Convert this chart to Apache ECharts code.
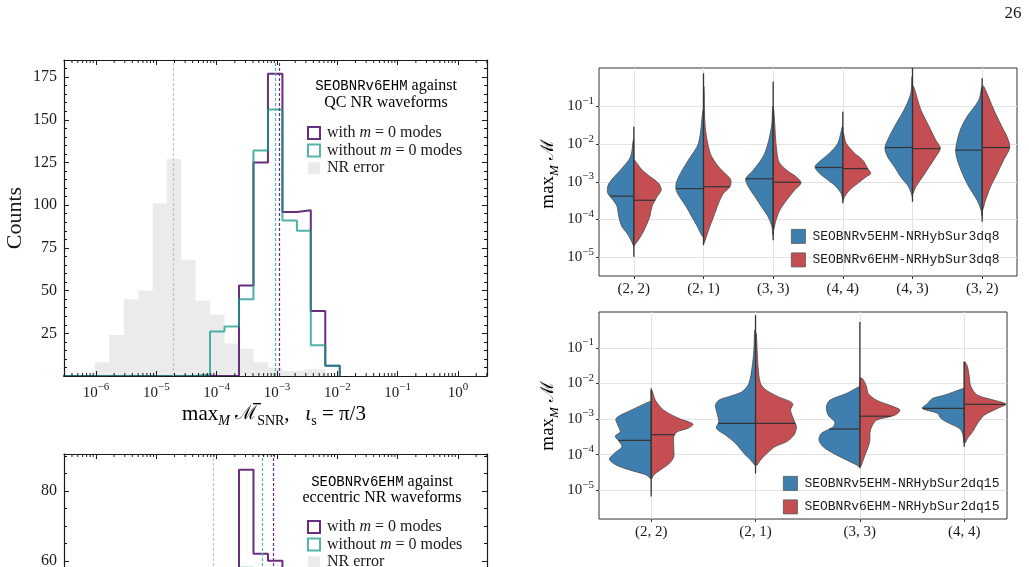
<!DOCTYPE html>
<html>
<head>
<meta charset="utf-8">
<title>mismatch histograms and violins</title>
<script src="https://cdn.jsdelivr.net/npm/echarts@6.0.0/dist/echarts.min.js"></script>
<style>
  html, body { margin: 0; padding: 0; background: #fff; overflow: hidden; }
  #chart { width: 1029px; height: 800px; }
</style>
</head>
<body>
<div id="chart"></div>
<script>
// ---------- histograms (x = log10 of the mismatch) ----------
var binEdges = [-6.02, -5.78, -5.54, -5.30, -5.06, -4.83, -4.59, -4.35, -4.11, -3.87,
                -3.63, -3.39, -3.15, -2.91, -2.67, -2.44, -2.20, -1.96];
// QC NR waveforms
var qcWith    = [0, 0, 0, 0, 0, 0, 0, 0, 0, 0, 53, 125, 177, 96, 97, 38, 6];
var qcWithout = [0, 0, 0, 0, 0, 0, 0, 1, 26, 29, 45, 132, 156, 91, 85, 18, 6];
var qcNRError = [8, 24, 45, 50, 101, 127, 68, 44, 36, 19, 16, 8, 5, 3, 4, 4, 1];
var qcMedians = [-2.97, -3.03, -4.72];   // with, without, NR error
// eccentric NR waveforms
var eccWith    = [0, 0, 0, 0, 0, 0, 0, 2, 8, 30, 86, 62, 60, 38, 22, 8, 2];
var eccWithout = [0, 0, 0, 0, 0, 0, 2, 8, 25, 48, 58, 57, 50, 38, 20, 9, 3];
var eccNRError = [1, 2, 4, 8, 14, 24, 36, 44, 42, 36, 26, 16, 9, 4, 2, 1, 0];
var eccMedians = [-3.06, -3.24, -4.05];
var decades = [-6, -5, -4, -3, -2, -1, 0];

// ---------- violins: profiles are [log10 mismatch, relative half width] ----------
var topCats = ['(2, 2)', '(2, 1)', '(3, 3)', '(4, 4)', '(4, 3)', '(3, 2)'];
var topV5 = [
  [[-1.89,0.02],[-2.34,0.12],[-2.69,0.48],[-2.87,0.71],[-3.04,0.89],[-3.18,0.95],[-3.31,0.93],[-3.49,0.74],[-3.66,0.60],[-3.93,0.54],[-4.20,0.42],[-4.37,0.24],[-4.55,0.10],[-4.68,0.02]],
  [[-1.09,0.02],[-1.98,0.18],[-2.42,0.54],[-2.78,0.83],[-3.04,0.98],[-3.22,0.98],[-3.40,0.86],[-3.66,0.62],[-3.93,0.42],[-4.20,0.21],[-4.37,0.10],[-4.46,0.02]],
  [[-1.00,0.02],[-1.54,0.06],[-2.24,0.30],[-2.69,0.71],[-2.87,0.95],[-2.95,0.99],[-3.13,0.89],[-3.40,0.65],[-3.66,0.42],[-3.93,0.18],[-4.20,0.04],[-4.40,0.01]],
  [[-1.54,0.02],[-1.98,0.18],[-2.24,0.48],[-2.42,0.77],[-2.60,1.00],[-2.78,0.83],[-2.95,0.54],[-3.13,0.24],[-3.31,0.06],[-3.45,0.01]],
  [[-0.20,0.02],[-0.65,0.06],[-1.09,0.30],[-1.54,0.65],[-1.89,0.89],[-2.11,0.99],[-2.34,0.89],[-2.60,0.65],[-2.87,0.42],[-3.13,0.14],[-3.31,0.04],[-3.40,0.01]],
  [[-0.50,0.02],[-0.83,0.12],[-1.27,0.54],[-1.54,0.74],[-1.80,0.86],[-2.16,0.95],[-2.42,0.89],[-2.78,0.71],[-3.13,0.48],[-3.49,0.18],[-3.75,0.04],[-3.90,0.01]]
];
var topV6 = [
  [[-2.42,0.02],[-2.69,0.30],[-2.87,0.60],[-3.04,0.89],[-3.22,0.98],[-3.40,0.83],[-3.66,0.65],[-3.93,0.57],[-4.20,0.42],[-4.46,0.24],[-4.64,0.07],[-4.70,0.01]],
  [[-0.47,0.02],[-1.54,0.06],[-2.24,0.24],[-2.60,0.54],[-2.82,0.83],[-2.95,0.98],[-3.13,0.95],[-3.31,0.71],[-3.57,0.54],[-3.93,0.36],[-4.28,0.18],[-4.55,0.06],[-4.64,0.01]],
  [[-1.09,0.02],[-2.42,0.18],[-2.69,0.48],[-2.87,0.83],[-3.03,1.00],[-3.22,0.77],[-3.49,0.48],[-3.75,0.24],[-4.02,0.10],[-4.28,0.02]],
  [[-1.70,0.02],[-1.98,0.12],[-2.24,0.42],[-2.42,0.71],[-2.64,0.89],[-2.78,1.00],[-2.87,0.83],[-3.04,0.54],[-3.22,0.24],[-3.40,0.06],[-3.50,0.01]],
  [[-0.47,0.04],[-1.09,0.30],[-1.54,0.60],[-1.89,0.83],[-2.11,1.00],[-2.34,0.83],[-2.60,0.60],[-2.87,0.36],[-3.13,0.12],[-3.31,0.02]],
  [[-0.47,0.06],[-1.09,0.42],[-1.54,0.71],[-1.80,0.89],[-2.09,0.99],[-2.42,0.77],[-2.78,0.54],[-3.13,0.30],[-3.49,0.12],[-3.75,0.02]]
];
var topV5Median = [-3.38, -3.18, -2.92, -2.62, -2.09, -2.16];
var topV6Median = [-3.49, -3.13, -3.01, -2.65, -2.12, -2.09];
var topRange = [[-1.54, -4.99], [-0.12, -4.68], [-0.34, -4.55], [-1.14, -3.57], [0.02, -3.53], [-0.25, -4.06]];

var botCats = ['(2, 2)', '(2, 1)', '(3, 3)', '(4, 4)'];
var botV5 = [
  [[-2.51,0.04],[-2.75,0.48],[-2.98,0.84],[-3.17,0.80],[-3.36,0.74],[-3.48,0.86],[-3.64,0.76],[-3.78,0.70],[-3.96,0.88],[-4.13,1.00],[-4.29,0.84],[-4.43,0.52],[-4.57,0.12],[-4.67,0.02]],
  [[-0.50,0.02],[-1.06,0.04],[-1.53,0.08],[-2.00,0.16],[-2.23,0.32],[-2.37,0.64],[-2.47,0.88],[-2.61,0.96],[-2.84,0.92],[-3.08,0.88],[-3.26,0.94],[-3.45,0.72],[-3.68,0.48],[-3.96,0.28],[-4.15,0.12],[-4.29,0.02]],
  [[-2.09,0.02],[-2.28,0.32],[-2.47,0.72],[-2.65,0.80],[-2.89,0.76],[-3.08,0.60],[-3.22,0.64],[-3.40,0.92],[-3.59,0.98],[-3.78,0.88],[-3.96,0.64],[-4.15,0.32],[-4.29,0.08],[-4.34,0.02]],
  [[-2.14,0.02],[-2.33,0.48],[-2.42,0.76],[-2.56,0.88],[-2.70,1.00],[-2.84,0.64],[-2.98,0.56],[-3.12,0.36],[-3.26,0.12],[-3.40,0.04],[-3.64,0.01]]
];
var botV6 = [
  [[-2.19,0.02],[-2.47,0.10],[-2.75,0.30],[-2.98,0.66],[-3.14,1.00],[-3.26,0.88],[-3.36,0.62],[-3.50,0.54],[-3.78,0.54],[-4.06,0.54],[-4.24,0.44],[-4.43,0.22],[-4.57,0.06],[-4.67,0.02]],
  [[-0.60,0.02],[-1.53,0.06],[-2.00,0.12],[-2.19,0.26],[-2.37,0.54],[-2.56,0.89],[-2.75,0.84],[-3.03,0.92],[-3.22,0.98],[-3.45,0.92],[-3.64,0.74],[-3.78,0.46],[-3.96,0.28],[-4.15,0.12],[-4.29,0.04]],
  [[-1.86,0.06],[-2.09,0.16],[-2.28,0.20],[-2.47,0.40],[-2.65,0.80],[-2.75,0.96],[-2.89,0.84],[-3.03,0.40],[-3.22,0.28],[-3.40,0.24],[-3.59,0.24],[-3.78,0.20],[-3.96,0.14],[-4.15,0.08],[-4.34,0.02]],
  [[-1.39,0.02],[-1.53,0.08],[-1.81,0.12],[-2.09,0.16],[-2.33,0.32],[-2.47,0.72],[-2.58,1.00],[-2.70,0.80],[-2.89,0.48],[-3.12,0.32],[-3.36,0.20],[-3.54,0.08],[-3.68,0.02]]
];
var botV5Median = [-3.60, -3.12, -3.28, -2.70];
var botV6Median = [-3.44, -3.12, -2.92, -2.59];
var botRange = [[-2.14, -5.18], [-0.08, -4.53], [-0.27, -4.38], [-1.39, -3.78]];

// ---------- styling ----------
var FONT = "'Liberation Serif', 'DejaVu Serif', serif";
var MONO = "'Liberation Mono', 'DejaVu Sans Mono', monospace";
var INK = '#1a1a1a';
var purple = '#692d7d', teal = '#16988b', tealLight = '#55b5ab', nrGray = '#ebebeb';
var blue = '#3f7fb0', red = '#c44e52';
var WITH = 'with m = 0 modes', WITHOUT = 'without m = 0 modes', NRERR = 'NR error';

function supLabel(v) {
  var e = Math.round(v);
  return '{b|10}{s|' + (e < 0 ? '\u2212' + (-e) : e) + '}';
}
var supRich = {
  b: { fontFamily: FONT, fontSize: 15, lineHeight: 22, color: INK },
  s: { fontFamily: FONT, fontSize: 11, lineHeight: 12, verticalAlign: 'top', color: INK }
};

function stepData(counts) {
  var d = [[-6.7, 0]];
  for (var i = 0; i < counts.length; i++) d.push([binEdges[i], counts[i]]);
  d.push([binEdges[counts.length], 0]);
  return d;
}

function histSeries(name, counts, axis, color, median, fill) {
  var isTeal = color === teal;
  var s = {
    name: name, type: 'line', step: 'end', xAxisIndex: axis.x, yAxisIndex: axis.y,
    data: stepData(counts), showSymbol: false, symbol: 'none', silent: true,
    lineStyle: { color: color, width: fill ? 0 : 2, opacity: isTeal ? 0.75 : 1 },
    itemStyle: { color: color },
    z: fill ? 1 : (isTeal ? 4 : 3),
    markLine: {
      silent: true, symbol: ['none', 'none'], label: { show: false },
      lineStyle: { color: fill ? '#c4c4c4' : (isTeal ? tealLight : color), type: [3, 2], width: 1.2, opacity: 1 },
      data: [{ xAxis: median }]
    }
  };
  if (fill) {
    s.areaStyle = { color: color, opacity: 1 };
    s.lineStyle.opacity = 0;
  }
  return s;
}

// log-spaced minor ticks for the histogram x axes
var minorLog = [];
for (var n = -7; n <= 0; n++) {
  for (var k = 2; k <= 9; k++) {
    var v = n + Math.log10(k);
    if (v > -6.53 && v < 0.48) minorLog.push([v, 0]);
  }
}
function minorTickSeries(xi, yi, yMax) {
  return {
    type: 'custom', xAxisIndex: xi, yAxisIndex: yi, silent: true, z: 6,
    data: minorLog, encode: { x: 0, y: 1 },
    renderItem: function (params, api) {
      var b = api.coord([api.value(0), 0]);
      var t = api.coord([api.value(0), yMax]);
      return { type: 'group', children: [
        { type: 'line', shape: { x1: b[0], y1: b[1], x2: b[0], y2: b[1] - 3 }, style: { stroke: INK, lineWidth: 1 } },
        { type: 'line', shape: { x1: t[0], y1: t[1], x2: t[0], y2: t[1] + 3 }, style: { stroke: INK, lineWidth: 1 } }
      ] };
    }
  };
}

function widthAt(prof, y) {
  for (var i = 0; i < prof.length - 1; i++) {
    var a = prof[i], b = prof[i + 1];
    if (y <= a[0] && y >= b[0]) {
      var f = (a[0] - y) / (a[0] - b[0]);
      return a[1] + f * (b[1] - a[1]);
    }
  }
  return 0;
}

function violinSeries(name, profiles, medians, side, color, xi, yi) {
  var idx = profiles.map(function (p, i) { return [i, medians[i]]; });
  return {
    name: name, type: 'custom', xAxisIndex: xi, yAxisIndex: yi, silent: true, z: 3,
    data: idx, encode: { x: 0, y: 1 },
    itemStyle: { color: color },
    renderItem: function (params, api) {
      var i = api.value(0);
      var prof = profiles[i];
      var half = api.size([1, 0])[0] * 0.4;
      var cx = api.coord([i, 0])[0];
      var pts = [[cx, api.coord([i, prof[0][0]])[1]]];
      var j;
      for (j = 0; j < prof.length; j++) {
        pts.push([cx + side * prof[j][1] * half, api.coord([i, prof[j][0]])[1]]);
      }
      pts.push([cx, api.coord([i, prof[prof.length - 1][0]])[1]]);
      for (j = prof.length - 2; j >= 1; j--) pts.push([cx, api.coord([i, prof[j][0]])[1]]);
      var m = medians[i];
      var my = api.coord([i, m])[1];
      var w = widthAt(prof, m) * half;
      return { type: 'group', children: [
        { type: 'polygon', shape: { points: pts, smooth: 0.3 }, style: { fill: color, stroke: '#4a4a4a', lineWidth: 0.8 } },
        { type: 'line', shape: { x1: cx, y1: my, x2: cx + side * w, y2: my }, style: { stroke: '#333', lineWidth: 1.2 } }
      ] };
    }
  };
}

function rangeSeries(ranges, xi, yi) {
  return {
    type: 'custom', xAxisIndex: xi, yAxisIndex: yi, silent: true, z: 5,
    data: ranges.map(function (r, i) { return [i, r[0], r[1]]; }), encode: { x: 0, y: [1, 2] },
    renderItem: function (params, api) {
      var a = api.coord([api.value(0), api.value(1)]);
      var b = api.coord([api.value(0), api.value(2)]);
      return { type: 'line', shape: { x1: a[0], y1: a[1], x2: b[0], y2: b[1] }, style: { stroke: '#333', lineWidth: 1.3 } };
    }
  };
}

// ---------- axes ----------
function histX(grid, top) {
  return {
    gridIndex: grid, type: 'value', min: -6.53, max: 0.48, position: top ? 'top' : 'bottom', z: 10,
    axisLine: { show: true, onZero: false, lineStyle: { color: INK, width: 1.2 } },
    axisTick: { show: true, inside: true, length: 5, customValues: decades, lineStyle: { color: INK } },
    axisLabel: { show: !top, customValues: decades, formatter: supLabel, rich: supRich, margin: 6 },
    splitLine: { show: false }
  };
}
function histY(grid, right, max, interval, split) {
  return {
    gridIndex: grid, type: 'value', min: 0, max: max, interval: interval, position: right ? 'right' : 'left', z: 10,
    axisLine: { show: true, onZero: false, lineStyle: { color: INK, width: 1.2 } },
    axisTick: { show: true, inside: true, length: 5, lineStyle: { color: INK } },
    minorTick: { show: true, splitNumber: split, length: 3, lineStyle: { color: INK } },
    axisLabel: {
      show: !right, margin: 7, fontFamily: FONT, fontSize: 16, color: INK,
      formatter: function (v) { return (v > 0 && v % interval === 0) ? String(v) : ''; }
    },
    splitLine: { show: false }
  };
}
function violinX(grid, cats, max) {
  var vals = cats.map(function (c, i) { return i; });
  return {
    gridIndex: grid, type: 'value', min: -0.5, max: max,
    axisLine: { show: false, onZero: false },
    axisTick: { show: true, length: 3, customValues: vals, lineStyle: { color: '#333' } },
    axisLabel: { customValues: vals, margin: 6, fontFamily: FONT, fontSize: 15, color: INK,
                 formatter: function (v) { return cats[Math.round(v)]; } },
    splitLine: { show: true, lineStyle: { color: '#e3e3e3', width: 1 } }
  };
}
function violinY(grid, min, max) {
  var vals = [-5, -4, -3, -2, -1];
  return {
    gridIndex: grid, type: 'value', min: min, max: max,
    axisLine: { show: false, onZero: false },
    axisTick: { show: true, length: 3, customValues: vals, lineStyle: { color: '#333' } },
    axisLabel: { customValues: vals, formatter: supLabel, rich: supRich, margin: 5 },
    splitLine: { show: true, lineStyle: { color: '#e3e3e3', width: 1 } }
  };
}

function legendFmt(name) {
  var p = name.split('m = 0');
  if (p.length === 2) return '{t|' + p[0] + '}{i|m}{t| = 0' + p[1] + '}';
  return '{t|' + name + '}';
}
var legendRich = {
  t: { fontFamily: FONT, fontSize: 16, color: INK, lineHeight: 20 },
  i: { fontFamily: FONT, fontSize: 16, fontStyle: 'italic', color: INK, lineHeight: 20 }
};
function histLegend(top) {
  return {
    left: 302, top: top, orient: 'vertical', itemWidth: 12, itemHeight: 12, itemGap: 1.6,
    selectedMode: false, formatter: legendFmt,
    textStyle: { rich: legendRich, padding: [0, 0, 0, 2] },
    data: [
      { name: WITH, icon: 'rect', itemStyle: { color: '#fff', borderColor: purple, borderWidth: 2 } },
      { name: WITHOUT, icon: 'rect', itemStyle: { color: '#fff', borderColor: tealLight, borderWidth: 2 } },
      { name: NRERR, icon: 'rect', itemStyle: { color: nrGray, borderWidth: 0 } }
    ]
  };
}
function violinLegend(left, top, names) {
  return {
    left: left, top: top, orient: 'vertical', itemWidth: 14, itemHeight: 14, itemGap: 8.7,
    selectedMode: false,
    textStyle: { fontFamily: MONO, fontSize: 13, color: INK, padding: [0, 0, 0, 2] },
    data: [
      { name: names[0], icon: 'rect', itemStyle: { color: blue, borderColor: '#555', borderWidth: 0.8 } },
      { name: names[1], icon: 'rect', itemStyle: { color: red, borderColor: '#555', borderWidth: 0.8 } }
    ]
  };
}

var mathRich = {
  n: { fontFamily: FONT, fontSize: 21, color: INK, lineHeight: 28 },
  c: { fontFamily: "'DejaVu Serif', serif", fontSize: 19, color: INK, lineHeight: 28 },
  it: { fontFamily: FONT, fontSize: 21, fontStyle: 'italic', color: INK, lineHeight: 28 },
  sub: { fontFamily: FONT, fontSize: 14, color: INK, lineHeight: 15, verticalAlign: 'bottom' },
  subi: { fontFamily: FONT, fontSize: 14, fontStyle: 'italic', color: INK, lineHeight: 15, verticalAlign: 'bottom' }
};
var yRich = {
  n: { fontFamily: FONT, fontSize: 19, color: INK, lineHeight: 26 },
  c: { fontFamily: "'DejaVu Serif', serif", fontSize: 18, color: INK, lineHeight: 26 },
  subi: { fontFamily: FONT, fontSize: 13, fontStyle: 'italic', color: INK, lineHeight: 14, verticalAlign: 'bottom' }
};
var titleRich = {
  tt: { fontFamily: MONO, fontSize: 14, color: INK },
  rm: { fontFamily: FONT, fontSize: 16, color: INK }
};

var chart = echarts.init(document.getElementById('chart'), null, { renderer: 'canvas' });
chart.setOption({
  animation: false,
  backgroundColor: '#fff',
  grid: [
    { left: 64, top: 60, width: 423, height: 316 },
    { left: 64, top: 454, width: 423, height: 317 },
    { left: 599, top: 68, width: 418, height: 208, show: true, borderColor: '#333', borderWidth: 1 },
    { left: 599, top: 312, width: 408, height: 207, show: true, borderColor: '#333', borderWidth: 1 }
  ],
  xAxis: [
    histX(0, false), histX(0, true), histX(1, false), histX(1, true),
    violinX(2, topCats, 5.5), violinX(3, botCats, 3.41)
  ],
  yAxis: [
    histY(0, false, 185, 25, 5), histY(0, true, 185, 25, 5),
    histY(1, false, 90.5, 20, 4), histY(1, true, 90.5, 20, 4),
    violinY(2, -5.5, 0.02), violinY(3, -5.81, 0.01)
  ],
  legend: [
    histLegend(120),
    histLegend(514),
    violinLegend(786, 224, ['SEOBNRv5EHM-NRHybSur3dq8', 'SEOBNRv6EHM-NRHybSur3dq8']),
    violinLegend(778, 471, ['SEOBNRv5EHM-NRHybSur2dq15', 'SEOBNRv6EHM-NRHybSur2dq15'])
  ],
  series: [
    histSeries(NRERR, qcNRError, { x: 0, y: 0 }, nrGray, qcMedians[2], true),
    histSeries(WITH, qcWith, { x: 0, y: 0 }, purple, qcMedians[0], false),
    histSeries(WITHOUT, qcWithout, { x: 0, y: 0 }, teal, qcMedians[1], false),
    minorTickSeries(0, 0, 185),
    histSeries(NRERR, eccNRError, { x: 2, y: 2 }, nrGray, eccMedians[2], true),
    histSeries(WITH, eccWith, { x: 2, y: 2 }, purple, eccMedians[0], false),
    histSeries(WITHOUT, eccWithout, { x: 2, y: 2 }, teal, eccMedians[1], false),
    minorTickSeries(2, 2, 90.5),
    violinSeries('SEOBNRv5EHM-NRHybSur3dq8', topV5, topV5Median, -1, blue, 4, 4),
    violinSeries('SEOBNRv6EHM-NRHybSur3dq8', topV6, topV6Median, 1, red, 4, 4),
    rangeSeries(topRange, 4, 4),
    violinSeries('SEOBNRv5EHM-NRHybSur2dq15', botV5, botV5Median, -1, blue, 5, 5),
    violinSeries('SEOBNRv6EHM-NRHybSur2dq15', botV6, botV6Median, 1, red, 5, 5),
    rangeSeries(botRange, 5, 5)
  ],
  graphic: [
    { type: 'text', x: 1013, y: 14, style: { text: '26', font: '17px ' + FONT, fill: INK, align: 'center', verticalAlign: 'middle' } },
    { type: 'text', x: 15, y: 218, rotation: Math.PI / 2, style: { text: 'Counts', font: '22px ' + FONT, fill: INK, align: 'center', verticalAlign: 'middle' } },
    { type: 'text', x: 274, y: 414, style: {
        text: '{n|max}{subi|M}{n| }{c|\u2133\u0305}{sub|SNR}{n|,   }{it|\u03b9}{sub|s}{n| = \u03c0/3}',
        rich: mathRich, align: 'center', verticalAlign: 'middle' } },
    { type: 'text', x: 386, y: 86, style: { text: '{tt|SEOBNRv6EHM}{rm| against}', rich: titleRich, align: 'center', verticalAlign: 'middle' } },
    { type: 'text', x: 386, y: 103, style: { text: '{rm|QC NR waveforms}', rich: titleRich, align: 'center', verticalAlign: 'middle' } },
    { type: 'text', x: 382, y: 482, style: { text: '{tt|SEOBNRv6EHM}{rm| against}', rich: titleRich, align: 'center', verticalAlign: 'middle' } },
    { type: 'text', x: 382, y: 498, style: { text: '{rm|eccentric NR waveforms}', rich: titleRich, align: 'center', verticalAlign: 'middle' } },
    { type: 'text', x: 548, y: 174, rotation: Math.PI / 2, style: {
        text: '{n|max}{subi|M}{n| }{c|\u2133}', rich: yRich, align: 'center', verticalAlign: 'middle' } },
    { type: 'text', x: 548, y: 416, rotation: Math.PI / 2, style: {
        text: '{n|max}{subi|M}{n| }{c|\u2133}', rich: yRich, align: 'center', verticalAlign: 'middle' } }
  ]
});
</script>
</body>
</html>
